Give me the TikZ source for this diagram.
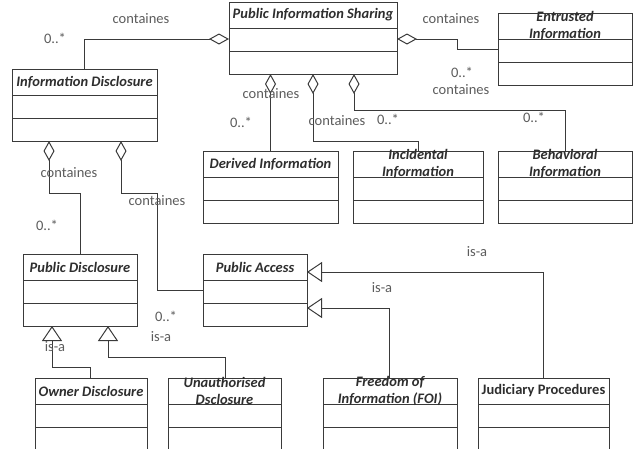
\documentclass[tikz,border=0pt]{standalone}
\usepackage{fontspec}
\setmainfont{Carlito}
\usetikzlibrary{arrows.meta}

\definecolor{umlline}{HTML}{3A3A3A}
\definecolor{umltext}{HTML}{2E2E2E}
\definecolor{umllabel}{HTML}{5C5C5C}

% class box: name, x, y, width, title style, title
\newcommand{\umlclass}[6]{%
  \node[classbox, minimum width=#4pt, anchor=north west] (#1) at (#2,#3) {};
  \draw[umlline, line width=1pt] ([yshift=-26pt]#1.north west) -- ([yshift=-26pt]#1.north east);
  \draw[umlline, line width=1pt] ([yshift=-49pt]#1.north west) -- ([yshift=-49pt]#1.north east);
  \node[#5] (#1-title) at ([yshift=-13pt]#1.north) {#6};
}

\begin{document}
\begin{tikzpicture}[x=1pt, y=-1pt]
		\tikzstyle{every node}+=[inner sep=0pt, outer sep=0pt]
		\tikzstyle{classbox}=[draw=umlline, line width=1pt, minimum height=72pt]
		\tikzstyle{abstract}=[text=umltext, align=center, font=\fontsize{14.5}{17}\selectfont\bfseries\itshape]
		\tikzstyle{concrete}=[text=umltext, align=center, font=\fontsize{14.5}{17}\selectfont\bfseries]
		\tikzstyle{lbl}=[text=umllabel, font=\fontsize{14.5}{17}\selectfont]
		\tikzstyle{aggr}=[draw=umlline, line width=1pt, {Diamond[open, length=20pt, width=11pt]}-]
		\tikzstyle{isa}=[draw=umlline, line width=1pt, -{Triangle[open, length=15pt, width=20pt]}]
		\clip (0,0) rectangle (634,448);
		% classes
		\umlclass{pis}{229}{2}{168}{abstract}{Public Information Sharing}
		\umlclass{id}{12}{69}{145}{abstract}{Information Disclosure}
		\umlclass{ent}{498}{13}{134}{abstract}{Entrusted\\Information}
		\umlclass{der}{203}{151}{135}{abstract}{Derived Information}
		\umlclass{inc}{353}{151}{130}{abstract}{Incidental\\Information}
		\umlclass{beh}{498}{151}{134}{abstract}{Behavioral\\Information}
		\umlclass{pd}{23}{254}{114}{abstract}{Public Disclosure}
		\umlclass{pa}{203}{254}{104}{abstract}{Public Access}
		\umlclass{od}{35}{378}{112}{abstract}{Owner Disclosure}
		\umlclass{ud}{168}{378}{113}{abstract}{Unauthorised\\Dsclosure}
		\umlclass{foi}{323}{378}{134}{abstract}{Freedom of\\Information (FOI)}
		\umlclass{jp}{478}{378}{131}{concrete}{Judiciary Procedures}
		% aggregations
		\draw[aggr] ([yshift=-37pt]pis.north west) -| (id.north);
		\draw[aggr] ([yshift=-37pt]pis.north east) -- ++(60,0) |- (ent.west);
		\draw[aggr] (pis.south -| der.north) -- (der.north);
		\draw[aggr] ([xshift=84pt]pis.south west) |- ([yshift=10pt]inc.north) -- (inc.north);
		\draw[aggr] ([xshift=125pt]pis.south west) |- ([yshift=41pt]beh.north) -- (beh.north);
		\draw[aggr] ([xshift=37pt]id.south west) |- ([yshift=61pt]pd.north) -- (pd.north);
		\draw[aggr] ([xshift=109pt]id.south west) -- ++(0,52) -- ++(36,0) |- (pa.west);
		% generalisations
		\draw[isa] ([xshift=55pt]od.north west) -- ++(0,-11) -| ([xshift=29pt]pd.south west);
		\draw[isa] ([xshift=57pt]ud.north west) -- ++(0,-21) -| ([xshift=85pt]pd.south west);
		\draw[isa] ([xshift=66pt]foi.north west) |- ([yshift=-54pt]pa.north east);
		\draw[isa] ([xshift=65pt]jp.north west) |- ([yshift=-18pt]pa.north east);
		% labels
		\node[lbl] (l1) at (141,19) {containes};
		\node[lbl] (m1) at (55,38) {0..*};
		\node[lbl] (l2) at (451,19) {containes};
		\node[lbl] (m2) at (462,72) {0..*};
		\node[lbl] (l3) at (461,90) {containes};
		\node[lbl] (l4) at (271,94) {containes};
		\node[lbl] (m4) at (241,122) {0..*};
		\node[lbl] (l5) at (337,121) {containes};
		\node[lbl] (m5) at (388,119) {0..*};
		\node[lbl] (m6) at (534,117) {0..*};
		\node[lbl] (l7) at (69,173) {containes};
		\node[lbl] (l8) at (157,201) {containes};
		\node[lbl] (m7) at (47,225) {0..*};
		\node[lbl] (m8) at (166,316) {0..*};
		\node[lbl] (i1) at (161,337) {is-a};
		\node[lbl] (i2) at (55,347) {is-a};
		\node[lbl] (i3) at (477,252) {is-a};
		\node[lbl] (i4) at (382,288) {is-a};
	\end{tikzpicture}
\end{document}
